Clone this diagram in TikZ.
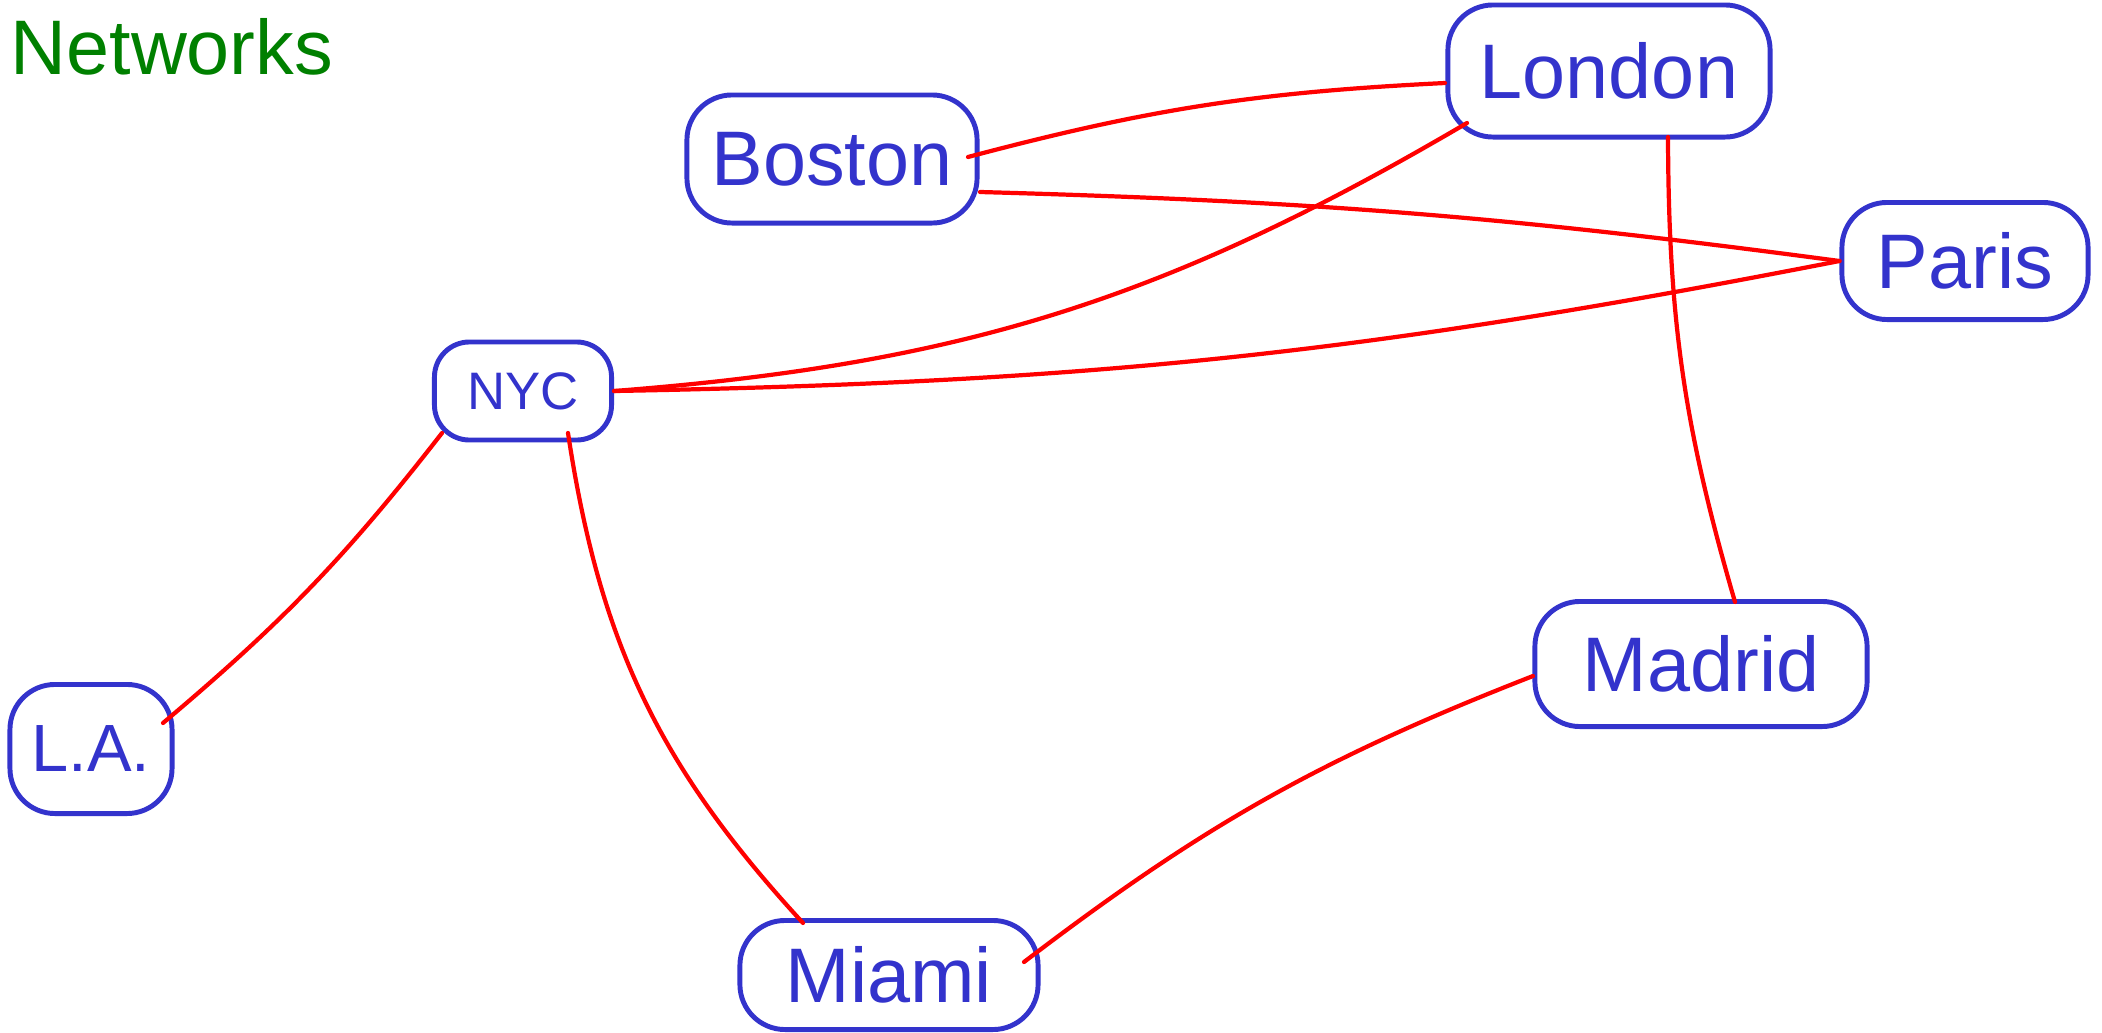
\documentclass[tikz,border=0pt]{standalone}
\usepackage{fontspec}
\setmainfont{Liberation Sans}
\definecolor{hblue}{HTML}{3333CC}
\definecolor{hred}{HTML}{FF0000}
\definecolor{hgreen}{HTML}{008000}
\tikzset{
  city/.style={draw=hblue, line width=1.4pt, rounded corners=0.45cm, text=hblue,
    font=\fontsize{22}{26}\selectfont, inner sep=0pt},
  link/.style={draw=hred, line width=1.2pt, line cap=round},
  title/.style={text=hgreen, font=\fontsize{22}{26}\selectfont, inner sep=0pt, anchor=north west}
}
\begin{document}
\begin{tikzpicture}[x=0.01cm, y=-0.01cm]
\useasboundingbox (0,0) rectangle (2102,1033);
\node[title] (title) at (10,18) {Networks};
\node[city, minimum width=3.22cm, minimum height=1.32cm] (London) at (1609,71) {London};
\node[city, minimum width=2.90cm, minimum height=1.28cm] (Boston) at (832,159) {Boston};
\node[city, minimum width=2.46cm, minimum height=1.17cm] (Paris) at (1965,261) {Paris};
\node[city, minimum width=1.77cm, minimum height=0.98cm, rounded corners=0.35cm,
      font=\fontsize{15}{18}\selectfont] (NYC) at (523,391) {NYC};
\node[city, minimum width=1.62cm, minimum height=1.29cm, font=\fontsize{19}{22}\selectfont] (LA) at (91,749) {L.A.};
\node[city, minimum width=3.32cm, minimum height=1.25cm] (Madrid) at (1701,664) {Madrid};
\node[city, minimum width=2.98cm, minimum height=1.09cm] (Miami) at (889,975) {Miami};

\draw[link] ([shift={(136,-2)}]Boston.center) to[bend left=6] ([shift={(-164,12)}]London.center);
\draw[link] ([shift={(148,33)}]Boston.center) to[bend left=3] (Paris.west);
\draw[link] ([shift={(-142,52)}]London.center) to[bend left=13] (NYC.east);
\draw[link] (NYC.east) to[bend right=5] (Paris.west);
\draw[link] ([shift={(59,66)}]London.center) to[bend right=8] ([shift={(34,-62)}]Madrid.center);
\draw[link] ([shift={(-81,42)}]NYC.center) to[bend left=6] ([shift={(72,-26)}]LA.center);
\draw[link] ([shift={(45,42)}]NYC.center) to[bend right=17] ([shift={(-86,-52)}]Miami.center);
\draw[link] ([shift={(135,-13)}]Miami.center) to[bend left=8] ([shift={(-168,12)}]Madrid.center);
\end{tikzpicture}
\end{document}
